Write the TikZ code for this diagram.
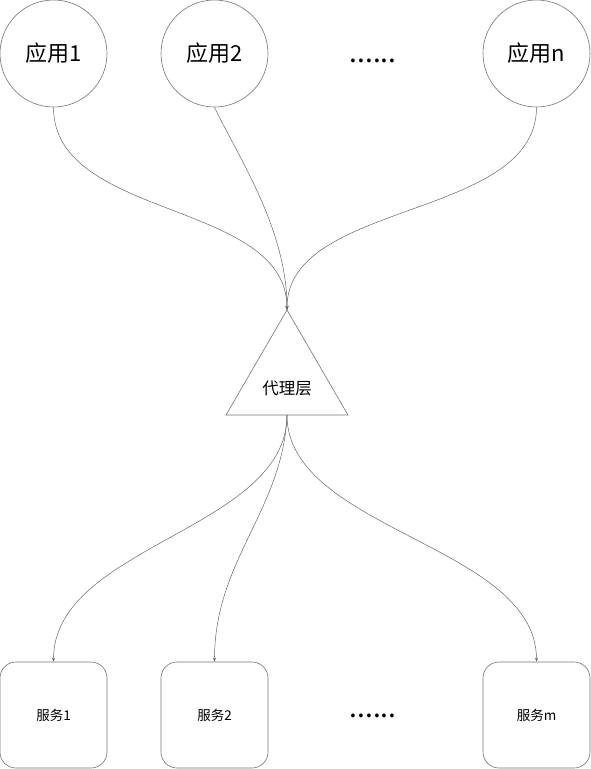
\documentclass[tikz,border=0pt]{standalone}
\usepackage{fontspec}
\setmainfont{Noto Sans CJK SC}
\usetikzlibrary{arrows.meta}
\begin{document}
\begin{tikzpicture}[x=1pt,y=-1pt,
  shapeline/.style={draw=black!55,line width=0.6pt},
  app/.style={shapeline,circle,minimum size=107pt,inner sep=0pt,font=\fontsize{22}{25}\selectfont},
  svc/.style={shapeline,rounded corners=16pt,minimum width=107pt,minimum height=106pt,inner sep=0pt,font=\fontsize{13.5}{16}\selectfont},
  conn/.style={draw=black!60,line width=0.5pt,-{Stealth[length=4pt,width=3pt]}},
  dotstext/.style={font=\fontsize{28}{30}\selectfont,inner sep=0pt}]
\useasboundingbox (0,0) rectangle (590,769);
% applications
\node[app] (a1) at (53.5,53.5) {应用1};
\node[app] (a2) at (214.5,53.5) {应用2};
\node[app] (an) at (536.5,53.5) {应用n};
\node[dotstext] (d1) at (373,61) {......};
% proxy triangle
\coordinate (ta) at (287,310);
\coordinate (tl) at (226,415);
\coordinate (tr) at (348,415);
\coordinate (tb) at (287,415);
\draw[shapeline] (ta) -- (tl) -- (tr) -- cycle;
\node[font=\fontsize{16.5}{19}\selectfont] (px) at (287,388) {代理层};
% services
\node[svc] (s1) at (53.5,715) {服务1};
\node[svc] (s2) at (214.5,715) {服务2};
\node[svc] (sm) at (536.5,715) {服务m};
\node[dotstext] (d2) at (373,716) {......};
% connectors top
\draw[conn] (a1.south) .. controls (53.5,220) and (287,200) .. (ta);
\draw[conn] (a2.south) .. controls (240,160) and (287,230) .. (ta);
\draw[conn] (an.south) .. controls (536.5,220) and (287,200) .. (ta);
% connectors bottom
\draw[conn] (tb) .. controls (287,530) and (53.5,545) .. (s1.north);
\draw[conn] (tb) .. controls (283,510) and (214.5,560) .. (s2.north);
\draw[conn] (tb) .. controls (287,530) and (536.5,545) .. (sm.north);
\end{tikzpicture}
\end{document}
